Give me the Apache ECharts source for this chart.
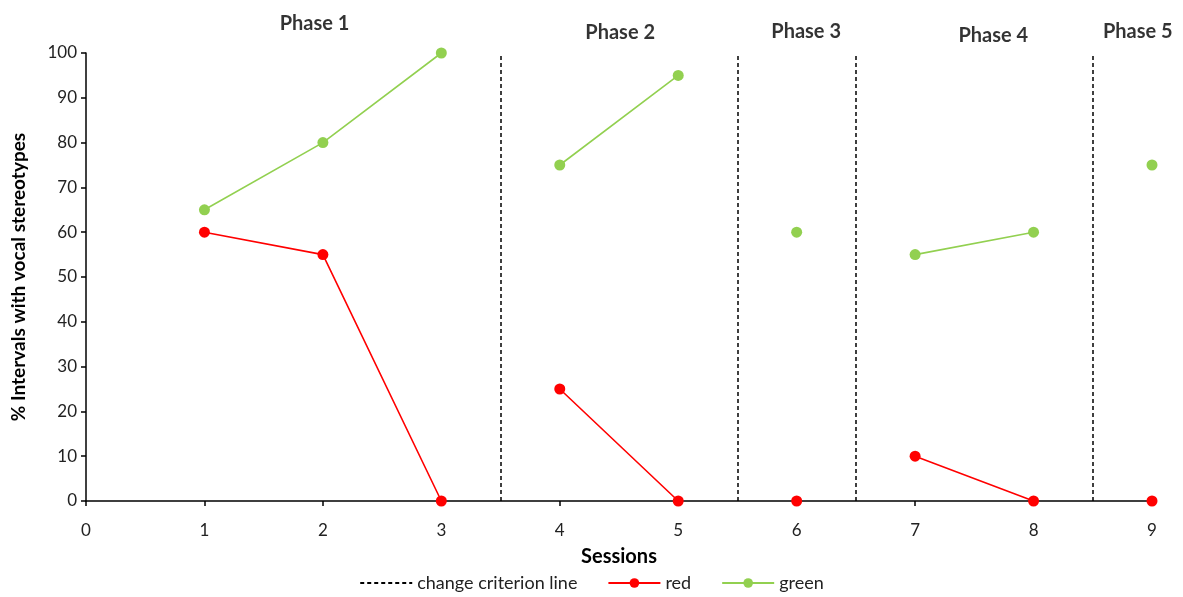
<!DOCTYPE html>
<html><head><meta charset="utf-8">
<script src="https://cdn.jsdelivr.net/npm/echarts@6/dist/echarts.min.js"></script>
<style>html,body{margin:0;padding:0;background:#fff}#c{width:1183px;height:597px}</style>
</head><body><div id="c"></div>
<script>
const phases = [[1,2,3],[4,5],[6],[7,8],[9]];
const redValues = [60,55,0,25,0,0,10,0,0];
const greenValues = [65,80,100,75,95,60,55,60,75];
const criterionLines = [3.5,5.5,6.5,8.5];
const phaseLabels = ['Phase 1','Phase 2','Phase 3','Phase 4','Phase 5'];
const phaseLabelX = [1.93,4.51,6.08,7.66,8.88];
const phaseLabelY = [106.5,104.5,104.9,104,104.9];

function build(vals){
  const out=[]; let i=0;
  phases.forEach((g,gi)=>{
    g.forEach(s=>{out.push([s,vals[i++]]);});
    if(gi<phases.length-1) out.push([g[g.length-1]+0.5,'-']);
  });
  return out;
}
const FONT='Lato';
const chart=echarts.init(document.getElementById('c'));
chart.setOption({
  animation:false,
  textStyle:{fontFamily:FONT},
  grid:{left:86,right:31,top:53,bottom:96,containLabel:false},
  xAxis:{type:'value',min:0,max:9,interval:1,
    name:'Sessions',nameLocation:'middle',nameGap:46,
    nameTextStyle:{fontSize:20,fontWeight:'bold',color:'#000',fontFamily:FONT},
    axisLine:{onZero:false,lineStyle:{color:'#000',width:1.5}},
    axisTick:{show:true,length:5,lineStyle:{color:'#000',width:1.5}},
    axisLabel:{color:'#222',fontSize:17,margin:21,fontFamily:FONT},
    splitLine:{show:false}},
  yAxis:{type:'value',min:0,max:100,interval:10,
    name:'% Intervals with vocal stereotypes',nameLocation:'middle',nameGap:58,
    nameTextStyle:{fontSize:19,fontWeight:'bold',color:'#000',fontFamily:FONT},
    axisLine:{show:true,lineStyle:{color:'#000',width:1.5}},
    axisTick:{show:true,length:5,lineStyle:{color:'#000',width:1.5}},
    axisLabel:{color:'#222',fontSize:17,margin:9,fontFamily:FONT},
    splitLine:{show:false}},
  legend:{bottom:0,left:'center',itemWidth:52,itemHeight:12,itemGap:30,
    textStyle:{fontSize:18,color:'#222',fontFamily:FONT},
    data:[{name:'change criterion line',itemStyle:{opacity:0}},'red','green']},
  series:[
    {name:'change criterion line',type:'line',data:[],symbol:'none',
      lineStyle:{color:'#000',type:[4,3],width:1.5},itemStyle:{color:'#000'},
      markLine:{silent:true,symbol:'none',label:{show:false},
        lineStyle:{color:'#000',type:[4,3],width:1.5},
        data:criterionLines.map(x=>[{coord:[x,0]},{coord:[x,100]}])}},
    {name:'red',type:'line',data:build(redValues),connectNulls:false,
      symbol:'circle',symbolSize:11,showAllSymbol:true,
      lineStyle:{color:'#ff0000',width:1.6},itemStyle:{color:'#ff0000'}},
    {name:'green',type:'line',data:build(greenValues),connectNulls:false,
      symbol:'circle',symbolSize:11,showAllSymbol:true,
      lineStyle:{color:'#92d050',width:1.6},itemStyle:{color:'#92d050'}},
    {name:'phases',type:'scatter',clip:false,symbolSize:0,silent:true,
      data:phaseLabels.map((t,i)=>({value:[phaseLabelX[i],phaseLabelY[i]],name:t})),
      label:{show:true,position:'inside',formatter:p=>p.name,fontSize:20,fontWeight:'bold',color:'#000',fontFamily:FONT}}
  ]
});
</script></body></html>
